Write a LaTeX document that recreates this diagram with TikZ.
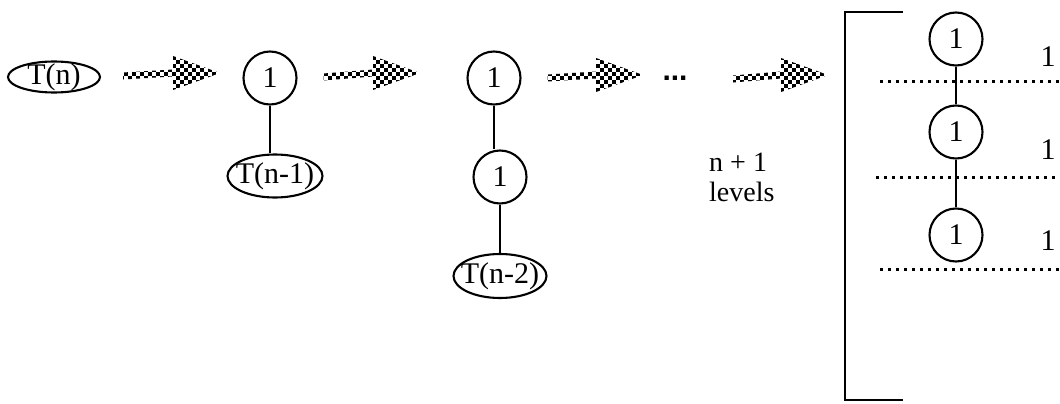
\documentclass[tikz,border=0pt]{standalone}
\usepackage{fontspec}
\setmainfont{Liberation Serif}
\newfontfamily\dotsfont{Liberation Sans}
\usetikzlibrary{shapes.geometric,calc}

% outline of a block arrow from #1 to its tip #2
\newcommand\arrowoutline[2]{%
  ($(#1)+(0,-3.5)$) -- ($(#2)+(-47,-3.5)$) -- ($(#2)+(-47,-17)$) --
  (#2) --
  ($(#2)+(-47,17)$) -- ($(#2)+(-47,3.5)$) -- ($(#1)+(0,3.5)$) -- cycle}

\begin{document}
\begin{tikzpicture}[x=1pt,y=-1pt,
  every node/.style={font=\fontsize{30}{32}\selectfont},
  unit/.style={draw,line width=2.1pt,circle,inner sep=0pt,minimum size=53pt},
  oval/.style={draw,line width=2.1pt,ellipse,inner sep=0pt},
  edge/.style={line width=2.1pt},
  levelline/.style={line width=3pt,dash pattern=on 3pt off 5pt},
  frame/.style={line width=2.3pt},
  levtext/.style={anchor=base west,inner sep=0pt,font=\fontsize{28}{28}\selectfont}]
\useasboundingbox (0,0) rectangle (1060,404);

% stage 0
\node[oval,minimum width=92pt,minimum height=31pt,label={center:T(n)}] (tn) at (54,77) {};

% stage 1
\node[unit] (c1) at (270,78) {1};
\node[oval,minimum width=95pt,minimum height=43pt,label={center:T(n-1)}] (tn1) at (275,176) {};
\draw[edge] (c1.south) -- (c1.south |- tn1.north);

% stage 2
\node[unit] (c2) at (494,78) {1};
\node[unit] (c3) at (500,177) {1};
\node[oval,minimum width=93pt,minimum height=44pt,label={center:T(n-2)}] (tn2) at (500,276) {};
\draw[edge] (c2.south) -- (c2.south |- c3.north);
\draw[edge] (c3.south) -- (c3.south |- tn2.north);

% ellipsis and level count
\node[anchor=base,font=\dotsfont\fontsize{30}{32}\selectfont\bfseries] (dots) at (675,81) {...};
\node[levtext] (lev1) at (709,171) {n + 1};
\node[levtext] (lev2) at (709,201) {levels};

% final tree
\node[unit] (r1) at (956,39) {1};
\node[unit] (r2) at (956,132) {1};
\node[unit] (r3) at (956,235) {1};
\draw[edge] (r1) -- (r2);
\draw[edge] (r2) -- (r3);
\coordinate (d1a) at (880,81);  \coordinate (d1b) at (1060,81);
\coordinate (d2a) at (876,177); \coordinate (d2b) at (1060,177);
\coordinate (d3a) at (880,269); \coordinate (d3b) at (1060,269);
\draw[levelline] (d1a) -- (d1b);
\draw[levelline] (d2a) -- (d2b);
\draw[levelline] (d3a) -- (d3b);
\node (l1) at (1048,57) {1};
\node (l2) at (1048,150) {1};
\node (l3) at (1048,241) {1};

% bracket
\coordinate (bt) at (903,12);
\coordinate (bb) at (903,400);
\draw[frame] (bt) -- (845,12) -- (845,400) -- (bb);

% arrows between stages, filled with a black-and-white checkerboard
\coordinate (a1s) at ($(tn.east)+(22,-1)$);  \coordinate (a1e) at (220,73);
\coordinate (a2s) at ($(c1.east)+(26,-1)$);  \coordinate (a2e) at (420,73);
\coordinate (a3s) at ($(c2.east)+(26,0)$);   \coordinate (a3e) at (643,75);
\coordinate (a4s) at (733,79);               \coordinate (a4e) at (828,75);
\begin{scope}
  \clip \arrowoutline{a1s}{a1e} \arrowoutline{a2s}{a2e}
        \arrowoutline{a3s}{a3e} \arrowoutline{a4s}{a4e};
  \foreach \x in {120,128,...,840}
    \foreach \y in {52,60,...,100}
      {\fill (\x,\y) rectangle ++(4,4);
       \fill (\x+4,\y+4) rectangle ++(4,4);}
\end{scope}
\end{tikzpicture}
\end{document}
